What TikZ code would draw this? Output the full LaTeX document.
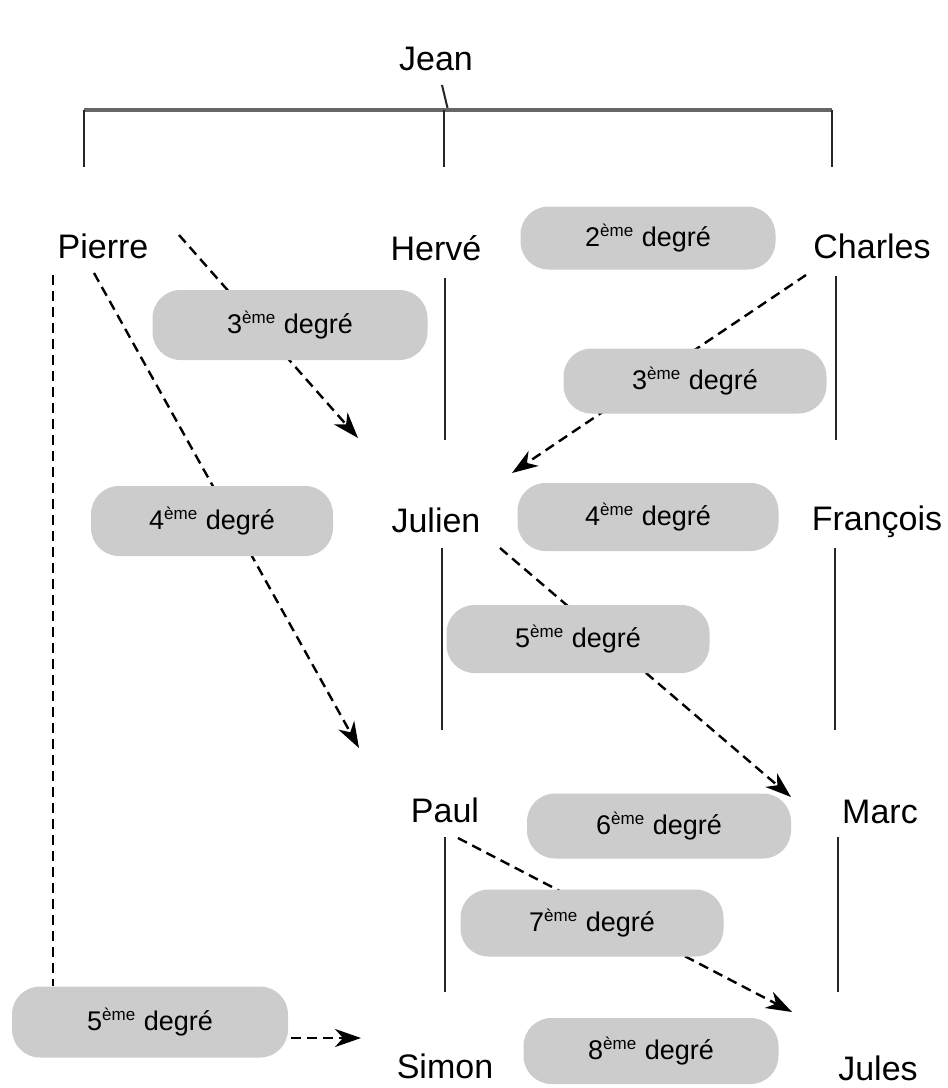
\documentclass[tikz,border=0pt]{standalone}
\usepackage{fontspec}
\setmainfont{Liberation Sans}
\usetikzlibrary{arrows.meta,backgrounds}
\newcommand\dgr[1]{#1\textsuperscript{\fontsize{8.5}{9}\selectfont ème} degré}
\begin{document}
\begin{tikzpicture}[x=0.5pt,y=-0.5pt,
  person/.style={font=\fontsize{17}{19}\selectfont, anchor=base, inner sep=0pt},
  pill/.style 2 args={fill=black!20, draw=none, rounded corners=14pt, inner sep=0pt,
    minimum width=#1*0.5pt, minimum height=#2*0.5pt, font=\fontsize{13.5}{15}\selectfont},
  link/.style={line width=1pt, black!85},
  bar/.style={line width=1.6pt, black!60},
  rel/.style={line width=1.2pt, dash pattern=on 5pt off 3pt, -{Stealth[length=13pt,width=9pt,inset=4pt]}},
  relplain/.style={line width=1.1pt, dash pattern=on 5pt off 3pt}]
\useasboundingbox (0,0) rectangle (948,1088);

% people
\node[person] (jean) at (436,70) {Jean};
\node[person] (pierre) at (103,258) {Pierre};
\node[person] (herve) at (436,260) {Hervé};
\node[person] (charles) at (872,258) {Charles};
\node[person] (julien) at (436,532) {Julien};
\node[person] (francois) at (877,530) {François};
\node[person] (paul) at (445,822) {Paul};
\node[person] (marc) at (880,823) {Marc};
\node[person] (simon) at (445,1078) {Simon};
\node[person] (jules) at (878,1080) {Jules};

% degree pills
\node[pill={255}{63}] (p2) at (648,238) {\dgr{2}};
\node[pill={275}{70}] (p3l) at (290,325) {\dgr{3}};
\node[pill={263}{65}] (p3r) at (695,381) {\dgr{3}};
\node[pill={242}{70}] (p4l) at (212,521) {\dgr{4}};
\node[pill={261}{68}] (p4r) at (648,517) {\dgr{4}};
\node[pill={263}{68}] (p5m) at (578,639) {\dgr{5}};
\node[pill={264}{65}] (p6) at (659,826) {\dgr{6}};
\node[pill={263}{67}] (p7) at (592,923) {\dgr{7}};
\node[pill={255}{66}] (p8) at (651,1051) {\dgr{8}};
\node[pill={276}{71}] (p5l) at (150,1022) {\dgr{5}};

% tree coordinates
\coordinate (tick) at (442,85);
\coordinate (barmid) at (448,110);
\coordinate (barl) at (84,110);
\coordinate (barc) at (444,110);
\coordinate (barr) at (832,110);
\coordinate (dropl) at (84,167);
\coordinate (dropc) at (444,167);
\coordinate (dropr) at (832,167);

% descent lines
\coordinate (herve-b) at (445,278);
\coordinate (julien-t) at (445,440);
\coordinate (charles-b) at (836,276);
\coordinate (francois-t) at (836,440);
\coordinate (julien-b) at (442,548);
\coordinate (paul-t) at (442,730);
\coordinate (francois-b) at (835,548);
\coordinate (marc-t) at (835,730);
\coordinate (paul-b) at (445,837);
\coordinate (simon-t) at (445,992);
\coordinate (marc-b) at (838,837);
\coordinate (jules-t) at (838,992);

% relation arrow ends
\coordinate (a1s) at (179,235);
\coordinate (a1e) at (358,438);
\coordinate (a2s) at (94,273);
\coordinate (a2e) at (359,748);
\coordinate (a3s) at (806,275);
\coordinate (a3e) at (512,473);
\coordinate (a4s) at (500,548);
\coordinate (a4e) at (791,797);
\coordinate (a5s) at (458,838);
\coordinate (a5e) at (792,1012);
\coordinate (a6s) at (291,1038);
\coordinate (a6e) at (361,1038);
\coordinate (vs) at (53,275);

\draw[link] (tick) -- (barmid);
\draw[bar] (barl) -- (barr);
\draw[link] (barl) -- (dropl);
\draw[link] (barc) -- (dropc);
\draw[link] (barr) -- (dropr);
\draw[link] (herve-b) -- (julien-t);
\draw[link] (charles-b) -- (francois-t);
\draw[link] (julien-b) -- (paul-t);
\draw[link] (francois-b) -- (marc-t);
\draw[link] (paul-b) -- (simon-t);
\draw[link] (marc-b) -- (jules-t);

\begin{pgfonlayer}{background}
\fill[white] (0,0) rectangle (948,1088);
\draw[rel] (a1s) -- (a1e);
\draw[rel] (a2s) -- (a2e);
\draw[rel] (a3s) -- (a3e);
\draw[rel] (a4s) -- (a4e);
\draw[rel] (a5s) -- (a5e);
\draw[relplain] (vs) -- (vs |- p5l.north);
\end{pgfonlayer}
\draw[rel] (p5l.east |- a6s) ++(3,0) -- (a6e);
\end{tikzpicture}
\end{document}
